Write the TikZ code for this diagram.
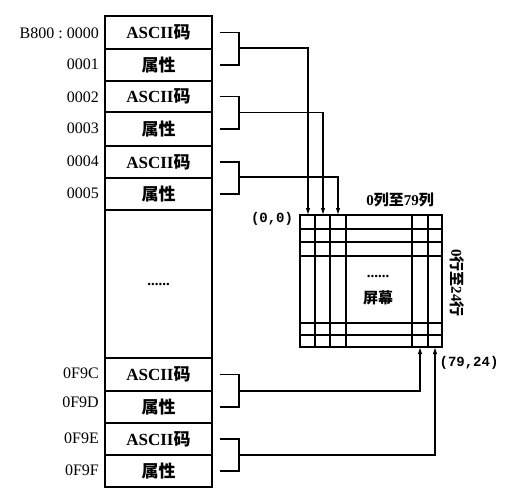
\documentclass[tikz,border=0pt]{standalone}
\usepackage{fontspec}
\setmainfont{Liberation Serif}
\setmonofont{Liberation Mono}
\newfontfamily\cjk{Noto Sans CJK SC}
\usetikzlibrary{arrows.meta}
\begin{document}
\begin{tikzpicture}[x=1pt,y=-1pt,
  cell/.style={draw,line width=1.2pt,minimum width=107pt,inner sep=0pt,font=\fontsize{17}{17}\selectfont\bfseries},
  addr/.style={anchor=east,inner sep=0pt,font=\fontsize{16}{16}\selectfont},
  lbl/.style={inner sep=0pt,font=\fontsize{15}{15}\selectfont\bfseries},
  brk/.style={line width=1.4pt},
  conn/.style={line width=1.1pt,-{Latex[length=7pt,width=4.5pt]}},
  gridline/.style={line width=1.3pt}]
\useasboundingbox (0,0) rectangle (505,495);
% memory column
\node[cell,minimum height=33pt] (m1) at (158.5,32.5) {ASCII{\cjk 码}};
\node[cell,minimum height=32pt] (m2) at (158.5,65) {\cjk 属性};
\node[cell,minimum height=31pt] (m3) at (158.5,96.5) {ASCII{\cjk 码}};
\node[cell,minimum height=34pt] (m4) at (158.5,129) {\cjk 属性};
\node[cell,minimum height=32pt] (m5) at (158.5,162) {ASCII{\cjk 码}};
\node[cell,minimum height=32pt] (m6) at (158.5,194) {\cjk 属性};
\node[cell,minimum height=148pt,font=\fontsize{15}{15}\selectfont\bfseries] (gap) at (158.5,284) {......};
\node[cell,minimum height=33pt] (m7) at (158.5,374.5) {ASCII{\cjk 码}};
\node[cell,minimum height=32pt] (m8) at (158.5,407) {\cjk 属性};
\node[cell,minimum height=32pt] (m9) at (158.5,439) {ASCII{\cjk 码}};
\node[cell,minimum height=32pt] (m10) at (158.5,471) {\cjk 属性};
% addresses
\node[addr] (a1) at (99,33) {B800\ :\ 0000};
\node[addr] (a2) at (99,64) {0001};
\node[addr] (a3) at (99,97) {0002};
\node[addr] (a4) at (99,128) {0003};
\node[addr] (a5) at (99,161) {0004};
\node[addr] (a6) at (99,193) {0005};
\node[addr] (a7) at (99,373) {0F9C};
\node[addr] (a8) at (99,402) {0F9D};
\node[addr] (a9) at (99,438) {0F9E};
\node[addr] (a10) at (99,470) {0F9F};
% screen
\node[draw,gridline,minimum width=142pt,minimum height=132pt,inner sep=0pt] (scr) at (371,281) {};
\foreach \x in {315,330,346,412,428} \draw[gridline] (\x,215) -- (\x,347);
\foreach \y in {229,242,256,323,335} \draw[gridline] (300,\y) -- (442,\y);
\node[lbl] (sd) at (378,276) {......};
\node[lbl] (sn) at (378,298) {\cjk 屏幕};
\node[lbl] (cols) at (400,200) {0{\cjk 列至}79{\cjk 列}};
\node[lbl,rotate=-90] (rows) at (457,283) {0{\cjk 行至}24{\cjk 行}};
\node[lbl,font=\fontsize{14}{14}\selectfont\ttfamily\bfseries] (o) at (272,219) {(0,0)};
\node[lbl,font=\fontsize{14}{14}\selectfont\ttfamily\bfseries] (e) at (469,363) {(79,24)};
% targets
\coordinate (t1) at (308,215);
\coordinate (t2) at (323,215);
\coordinate (t3) at (338,215);
\coordinate (t4) at (420,347);
\coordinate (t5) at (435,347);
% brackets
\coordinate (b1) at (239,48);
\coordinate (b2) at (239,112.5);
\coordinate (b3) at (239,177);
\coordinate (b4) at (239,391);
\coordinate (b5) at (239,455);
\draw[brk] ([xshift=7pt]m1.east) -| (b1) |- ([xshift=7pt]m2.east);
\draw[brk] ([xshift=7pt]m3.east) -| (b2) |- ([xshift=7pt]m4.east);
\draw[brk] ([xshift=7pt]m5.east) -| (b3) |- ([xshift=7pt]m6.east);
\draw[brk] ([xshift=7pt]m7.east) -| (b4) |- ([xshift=7pt]m8.east);
\draw[brk] ([xshift=7pt]m9.east) -| (b5) |- ([xshift=7pt]m10.east);
% connectors
\draw[conn] (b1) -| (t1);
\draw[conn] (b2) -| (t2);
\draw[conn] (b3) -| (t3);
\draw[conn] (b4) -| (t4);
\draw[conn] (b5) -| (t5);
\end{tikzpicture}
\end{document}
